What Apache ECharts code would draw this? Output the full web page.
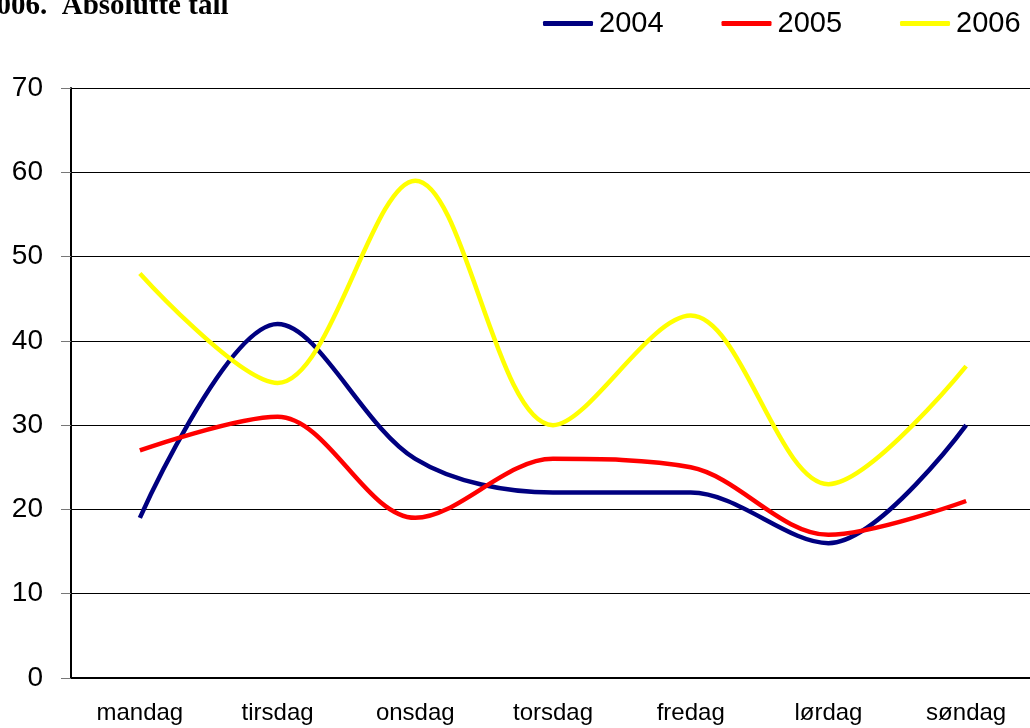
<!DOCTYPE html>
<html>
<head>
<meta charset="utf-8">
<script src="https://cdn.jsdelivr.net/npm/echarts@6/dist/echarts.min.js"></script>
<style>
  html, body { margin: 0; padding: 0; background: #fff; }
  #chart { width: 1030px; height: 728px; }
</style>
</head>
<body>
<div id="chart"></div>
<script>
// dager og verdier lest av figuren
var days = ['mandag', 'tirsdag', 'onsdag', 'torsdag', 'fredag', 'lørdag', 'søndag'];
var y2004 = [19, 42, 26, 22, 22, 16, 30];
var y2005 = [27, 31, 19, 26, 25, 17, 21];
var y2006 = [48, 35, 59, 30, 43, 23, 37];

var chart = echarts.init(document.getElementById('chart'));

function lineSerie(name, data, color) {
  return {
    name: name,
    type: 'line',
    data: data,
    smooth: 0.33,
    symbol: 'none',
    lineStyle: { color: color, width: 4.5 },
    itemStyle: { color: color }
  };
}

chart.setOption({
  animation: false,
  title: {
    text: '2006.  Absolutte tall',
    left: -23,
    top: -13,
    textStyle: { fontFamily: 'Liberation Serif', fontWeight: 'bold', fontSize: 29, color: '#000' }
  },
  legend: {
    left: 543,
    top: 9,
    padding: 0,
    icon: 'roundRect',
    itemWidth: 50,
    itemHeight: 5,
    itemGap: 58,
    textStyle: { fontFamily: 'Liberation Sans', fontSize: 29, color: '#000', padding: [0, 0, 0, 1] },
    data: ['2004', '2005', '2006']
  },
  grid: { left: 71, top: 88, width: 964, height: 590, outerBoundsMode: 'none' },
  xAxis: {
    type: 'category',
    data: days,
    boundaryGap: true,
    axisLine: { lineStyle: { color: '#000', width: 2 } },
    axisTick: { length: 7, lineStyle: { color: '#777' } },
    axisLabel: { margin: 23, fontFamily: 'Liberation Sans', fontSize: 24, color: '#000' }
  },
  yAxis: {
    type: 'value',
    min: 0,
    max: 70,
    interval: 10,
    axisLine: { show: true, lineStyle: { color: '#000', width: 2 } },
    axisTick: { show: true, length: 10, lineStyle: { color: '#777' } },
    axisLabel: { margin: 28, fontFamily: 'Liberation Sans', fontSize: 28, color: '#000' },
    splitLine: { lineStyle: { color: '#000', width: 1 } }
  },
  series: [
    lineSerie('2004', y2004, '#000080'),
    lineSerie('2005', y2005, '#ff0000'),
    lineSerie('2006', y2006, '#ffff00')
  ]
});
</script>
</body>
</html>
